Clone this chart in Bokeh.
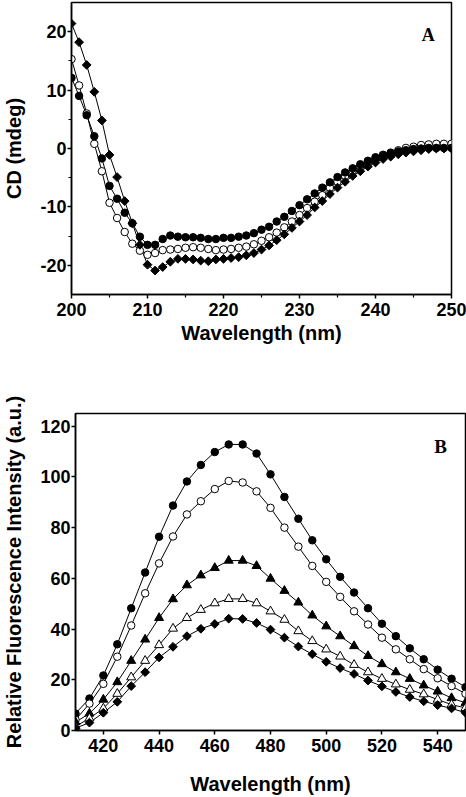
import numpy as np
from bokeh.plotting import figure
from bokeh.models import FixedTicker, Label, Range1d
from bokeh.embed import file_html
from bokeh.resources import INLINE

# ---------------- Panel A data (CD spectra) ----------------
cd_wavelength = list(range(200, 251))
cd_filled_circle = [12.1, 9.0, 5.7, 2.1, -1.7, -6.4, -8.6, -11.0, -12.8, -15.1,
                    -16.5, -16.5, -15.5, -14.9, -15.1, -15.2, -15.2, -15.3, -15.5, -15.5,
                    -15.3, -15.3, -15.1, -14.9, -14.5, -13.9, -13.4, -12.5, -11.7, -10.7,
                    -9.7, -8.7, -7.7, -6.7, -5.8, -4.9, -4.1, -3.4, -2.7, -2.1,
                    -1.5, -1.1, -0.8, -0.5, -0.3, -0.1, 0.0, 0.1, 0.1, 0.1, 0.1]
cd_open_circle = [15.3, 10.8, 6.0, 0.8, -3.9, -9.3, -11.9, -14.3, -16.3, -17.5,
                  -18.2, -17.9, -17.4, -17.3, -17.2, -17.0, -16.9, -17.0, -17.2, -17.4,
                  -17.3, -17.2, -17.0, -16.8, -16.4, -15.8, -15.2, -14.4, -13.5, -12.5,
                  -11.4, -10.2, -9.1, -8.0, -6.7, -5.7, -4.7, -3.8, -3.0, -2.4,
                  -1.7, -1.1, -0.7, -0.3, 0.1, 0.3, 0.6, 0.7, 0.8, 0.8, 0.8]
cd_diamond = [21.4, 18.2, 14.3, 9.7, 4.8, -1.1, -4.9, -9.0, -12.8, -16.5,
              -19.9, -20.9, -20.3, -19.4, -18.9, -18.9, -19.0, -19.2, -19.3, -19.0,
              -18.9, -18.75, -18.6, -18.3, -17.9, -17.3, -16.6, -15.7, -14.7, -13.6,
              -12.5, -11.4, -10.1, -9.0, -7.8, -6.7, -5.7, -4.7, -3.9, -3.1,
              -2.4, -1.8, -1.4, -1.0, -0.7, -0.5, -0.3, -0.1, 0.0, 0.0, 0.0]
cd_xticks = [200, 210, 220, 230, 240, 250]
cd_xminor = [205, 215, 225, 235, 245]
cd_yticks = [-20, -10, 0, 10, 20]
cd_yminor = [-15, -5, 5, 15]

# ---------------- Panel B data (fluorescence) ----------------
fl_wavelength = list(range(410, 551, 5))
fl_filled_circle = [6.7, 12.6, 21.7, 34.0, 48.2, 62.3, 76.4, 88.7, 98.2, 104.7,
                    109.8, 112.8, 112.8, 109.2, 101.0, 92.1, 83.5, 75.0, 67.5, 60.6,
                    54.4, 48.2, 42.1, 37.2, 32.4, 28.1, 24.0, 20.4, 17.1]
fl_open_circle = [4.2, 10.6, 18.4, 29.1, 41.4, 54.1, 65.9, 76.5, 85.2, 90.4,
                  95.2, 98.4, 97.8, 94.3, 87.8, 80.0, 72.5, 64.9, 58.6, 52.7,
                  47.0, 41.8, 36.6, 32.0, 28.1, 24.2, 20.6, 17.5, 14.5]
fl_filled_triangle = [3.3, 6.7, 12.2, 19.1, 27.5, 35.9, 44.4, 51.8, 57.3, 61.2,
                      64.1, 67.0, 67.0, 64.9, 59.9, 55.1, 50.5, 45.4, 41.1, 37.2,
                      33.3, 29.4, 26.2, 23.0, 20.4, 17.8, 15.4, 12.8, 10.9]
fl_open_triangle = [1.6, 4.8, 8.7, 14.5, 21.0, 27.5, 33.7, 40.2, 44.4, 47.6,
                    50.2, 51.9, 51.9, 50.2, 47.0, 43.7, 39.2, 35.3, 32.0, 29.2,
                    25.9, 23.0, 20.4, 18.2, 16.1, 14.3, 12.2, 10.2, 8.9]
fl_diamond = [0.9, 3.1, 7.0, 11.3, 17.5, 23.0, 28.8, 33.0, 37.2, 40.1,
              42.0, 44.1, 44.0, 42.4, 39.8, 36.6, 33.1, 30.1, 27.1, 24.6,
              22.3, 19.7, 17.4, 15.2, 13.2, 11.5, 10.0, 8.7, 7.0]
fl_xticks = [420, 440, 460, 480, 500, 520, 540]
fl_yticks = [0, 20, 40, 60, 80, 100, 120]

FONT = "Liberation Sans"


def style(p, xticks, xminor, yticks, yminor):
    p.grid.visible = False
    p.outline_line_color = "black"
    p.outline_line_width = 1.5
    p.xaxis.ticker = FixedTicker(ticks=xticks, minor_ticks=xminor)
    p.yaxis.ticker = FixedTicker(ticks=yticks, minor_ticks=yminor)
    p.yaxis.major_label_overrides = {t: str(t) for t in yticks}
    for ax in (p.xaxis[0], p.yaxis[0]):
        ax.axis_line_width = 1.5
        ax.axis_line_color = "black"
        ax.major_tick_line_width = 1.5
        ax.minor_tick_line_width = 1.2
        ax.major_tick_in = 0
        ax.major_tick_out = 4
        ax.minor_tick_in = 0
        ax.minor_tick_out = 3
        ax.major_label_text_font = FONT
        ax.major_label_text_font_style = "bold"
        ax.major_label_text_color = "black"
        ax.major_label_text_font_size = "18px"
        ax.axis_label_text_font = FONT
        ax.axis_label_text_font_style = "bold"
        ax.axis_label_text_font_size = "20px"
        ax.axis_label_text_color = "black"
    p.xaxis.major_label_standoff = 4
    p.yaxis.major_label_standoff = 1
    p.yaxis.axis_label_standoff = 12


# ---------------- Panel A ----------------
p1 = figure(width=466, height=350, output_backend="svg", toolbar_location=None,
            x_range=Range1d(200, 250), y_range=Range1d(-25, 25),
            min_border_left=69, min_border_right=15, min_border_top=2, min_border_bottom=56)
style(p1, cd_xticks, cd_xminor, cd_yticks, cd_yminor)
p1.xaxis.axis_label = "Wavelength (nm)"
p1.yaxis.axis_label = "CD (mdeg)"
p1.xaxis.axis_label_standoff = 3

for ys in (cd_filled_circle, cd_open_circle, cd_diamond):
    p1.line(cd_wavelength, ys, line_color="black", line_width=1)
p1.scatter(cd_wavelength, cd_open_circle, marker="circle", size=7.5,
           fill_color="white", line_color="black", line_width=1)
p1.scatter(cd_wavelength, cd_filled_circle, marker="circle", size=7.5,
           fill_color="black", line_color="black", line_width=1)
p1.scatter(cd_wavelength, cd_diamond, marker="square", angle=np.pi / 4, size=6.2,
           fill_color="black", line_color="black", line_width=1)
p1.add_layout(Label(x=246.1, y=19.5, text="A", text_font="Liberation Serif",
                    text_font_style="bold", text_font_size="18px",
                    text_baseline="alphabetic", text_color="black"))

# ---------------- Panel B ----------------
p2 = figure(width=466, height=447, output_backend="svg", toolbar_location=None,
            x_range=Range1d(410, 550), y_range=Range1d(0, 125),
            min_border_left=69, min_border_right=1, min_border_top=63, min_border_bottom=63)
style(p2, fl_xticks, [], fl_yticks, [])
p2.xaxis.axis_label = "Wavelength (nm)"
p2.yaxis.axis_label = "Relative Fluorescence Intensity (a.u.)"
p2.xaxis.axis_label_standoff = 18

for ys in (fl_filled_circle, fl_open_circle, fl_filled_triangle, fl_open_triangle, fl_diamond):
    p2.line(fl_wavelength, ys, line_color="black", line_width=1)
p2.scatter(fl_wavelength, fl_filled_circle, marker="circle", size=7.5,
           fill_color="black", line_color="black", line_width=1)
p2.scatter(fl_wavelength, fl_open_circle, marker="circle", size=7.5,
           fill_color="white", line_color="black", line_width=1)
p2.scatter(fl_wavelength, fl_filled_triangle, marker="triangle", size=9,
           fill_color="black", line_color="black", line_width=1)
p2.scatter(fl_wavelength, fl_open_triangle, marker="triangle", size=9,
           fill_color="white", line_color="black", line_width=1)
p2.scatter(fl_wavelength, fl_diamond, marker="square", angle=np.pi / 4, size=6.2,
           fill_color="black", line_color="black", line_width=1)
p2.add_layout(Label(x=538.8, y=112.1, text="B", text_font="Liberation Serif",
                    text_font_style="bold", text_font_size="19px",
                    text_baseline="alphabetic", text_color="black"))

open("out.html", "w").write(file_html([p1, p2], INLINE))
